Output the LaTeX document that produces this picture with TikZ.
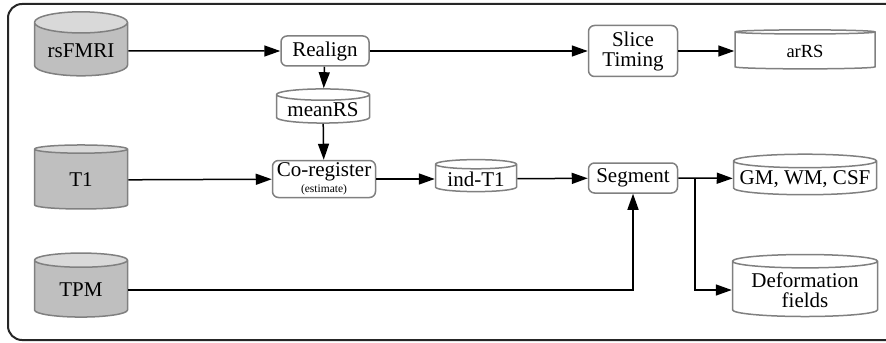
\documentclass[tikz,border=0pt]{standalone}
\usepackage{fontspec}
\setmainfont{Liberation Serif}
\usetikzlibrary{shapes.geometric,arrows.meta}
\newcommand{\lowtext}[1]{\raisebox{-2.5pt}{#1}}
\tikzset{
  frame/.style={draw=black!85,line width=1pt,rounded corners=7pt},
  proc/.style={draw=gray,line width=0.75pt,fill=white,rounded corners=3pt,align=center,inner sep=1pt},
  db/.style={cylinder,shape border rotate=90,draw=gray,line width=0.75pt,align=center,inner sep=1pt},
  store/.style={db,fill=white},
  rawdb/.style={db,cylinder uses custom fill,cylinder body fill=gray!50,cylinder end fill=gray!30,
    minimum width=46.5pt,minimum height=32pt,aspect=0.3},
  flow/.style={line width=0.75pt,-{Triangle[length=8pt,width=5.5pt]}},
}
\begin{document}
\begin{tikzpicture}[x=0.5pt,y=-0.5pt,font=\fontsize{10.5}{12}\selectfont]
\useasboundingbox (0,0) rectangle (886,342);
\draw[frame] (8,4) rectangle (900,340);
% raw inputs
\node[rawdb] (rs) at (81,51) {\lowtext{rsFMRI}};
\node[rawdb] (t1) at (81,180) {\lowtext{T1}};
\node[rawdb] (tpm) at (81,290) {\lowtext{TPM}};
% processing steps
\node[proc,minimum width=44pt,minimum height=15pt] (realign) at (325,51) {Realign};
\node[proc,minimum width=44.5pt,minimum height=25.5pt] (slice) at (633,51) {Slice\\[-2pt]Timing};
\node[proc,minimum width=51.5pt,minimum height=18.5pt] (coreg) at (324,179) {Co-register\\[-4pt]{\fontsize{5.75}{6}\selectfont(estimate)}};
\node[proc,minimum width=44.5pt,minimum height=15pt] (seg) at (633,178) {Segment};
% intermediate / outputs
\node[store,minimum width=46.5pt,minimum height=16.5pt,aspect=0.15] (mean) at (323,110) {meanRS};
\node[store,minimum width=40.5pt,minimum height=16pt,aspect=0.15] (ind) at (476,179) {ind-T1};
\node[store,minimum width=70pt,minimum height=19.5pt,aspect=0.1,font=\fontsize{9.25}{11}\selectfont] (ars) at (805,51) {arRS};
\node[store,minimum width=71.5pt,minimum height=19.5pt,aspect=0.1] (tissue) at (805,179) {GM, WM, CSF};
\node[store,minimum width=72.5pt,minimum height=31pt,aspect=0.12] (deform) at (805,290) {Deformation\\[-2pt]fields};
% connections
\draw[flow] (rs) -- (realign);
\draw[flow] (realign) -- (slice);
\draw[flow] (slice) -- (ars);
\draw[flow] (realign) -- (mean);
\draw[flow] (mean) -- (coreg);
\draw[flow] (t1) -- (coreg);
\draw[flow] (coreg) -- (ind);
\draw[flow] (ind) -- (seg);
\draw[flow] (tpm) -| (seg);
\coordinate (split) at (695,178);
\draw[flow] (seg) -- (split) -- (tissue);
\draw[flow] (split) |- (deform);
\end{tikzpicture}
\end{document}
